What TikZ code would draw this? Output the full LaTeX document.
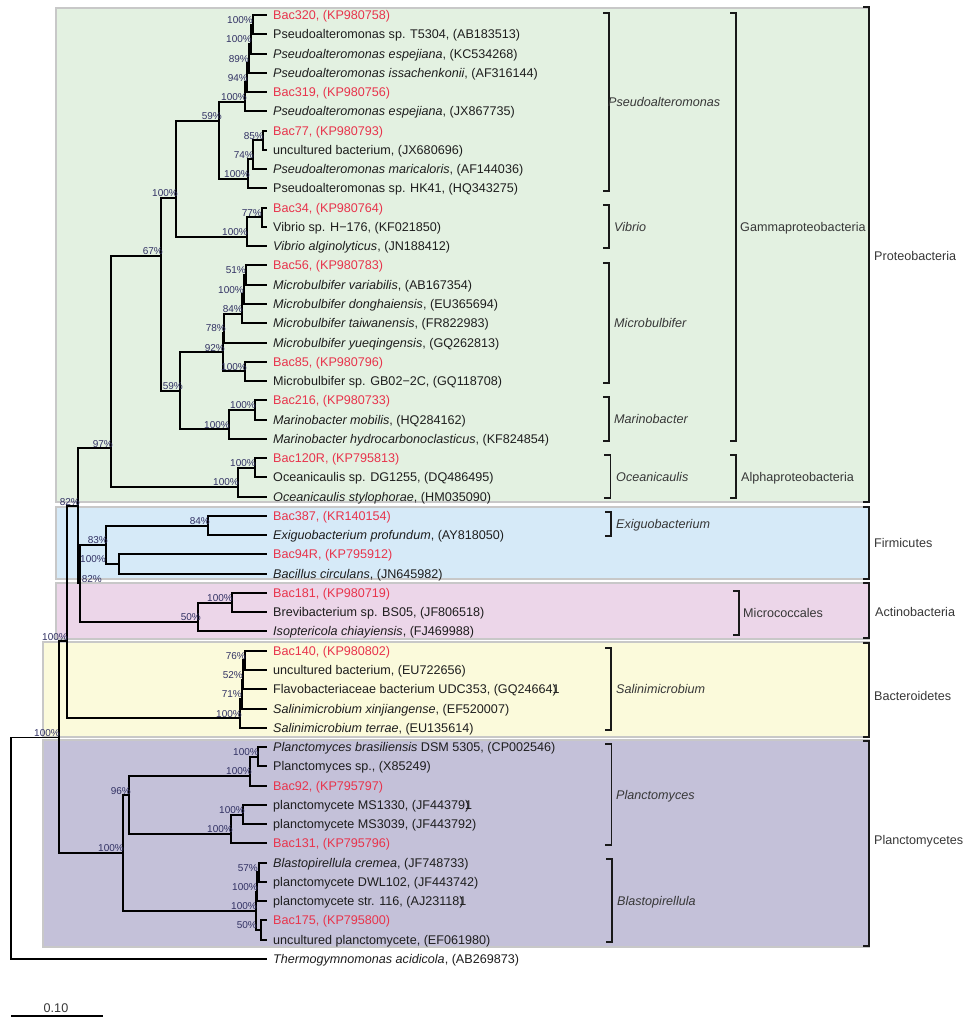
\documentclass[tikz,border=0pt]{standalone}
\usepackage{fontspec}
\setmainfont{Liberation Sans}
\definecolor{leafc}{RGB}{30,30,30}
\definecolor{redc}{RGB}{232,52,76}
\definecolor{bsc}{RGB}{50,50,100}
\definecolor{grpc}{RGB}{55,55,55}
\definecolor{boxborder}{RGB}{200,200,200}
\definecolor{fgreen}{RGB}{227,241,225}
\definecolor{fblue}{RGB}{214,234,248}
\definecolor{fpink}{RGB}{236,214,233}
\definecolor{fyellow}{RGB}{251,250,219}
\definecolor{fpurple}{RGB}{196,193,217}
\newcommand\leaffont{\fontsize{12.6}{14}\selectfont}
\newcommand\bsfont{\fontsize{10}{12}\selectfont}
\newcommand\glitchend{\makebox[0pt][l]{1})}
\begin{document}
\begin{tikzpicture}[x=1pt,y=-1pt,
  leaf/.style={anchor=base west,inner sep=0pt,font=\leaffont,text=leafc},
  redleaf/.style={leaf,text=redc},
  bs/.style={anchor=base east,inner sep=0pt,font=\bsfont,text=bsc},
  grp/.style={anchor=base west,inner sep=0pt,font=\leaffont,text=grpc},
  branch/.style={line width=2pt,line join=miter,draw=black},
  rootbranch/.style={line width=1.2pt,draw=black},
  brk/.style={line width=1.8pt,draw=black!90,line join=miter},
  cladebox/.style={draw=boxborder,line width=1.5pt}]
\useasboundingbox (0,0) rectangle (967,1024);
\fill[white] (0,0) rectangle (967,1024);
% coloured boxes
\path[cladebox,fill=fgreen] (56,8) rectangle (869,502);
\path[cladebox,fill=fblue] (56,507) rectangle (869,579);
\path[cladebox,fill=fpink] (56,583) rectangle (869,639);
\path[cladebox,fill=fyellow] (43,642) rectangle (869,737);
\path[cladebox,fill=fpurple] (43,740) rectangle (869,947);
% coordinates
\foreach \k in {1,...,50} {
  \coordinate (L\k) at (267,{15+(\k-1)*19.265});
  \coordinate (P\k) at (273,{19.5+(\k-1)*19.265});
}
\foreach \k/\x in {1/252.5,2/250.8,3/248.5,4/246.8,5/245,6/219,7/262.5,8/253,9/248,10/176,
  11/261.5,12/247,13/161,14/245.5,15/243.8,16/242,17/223.5,18/222.5,19/245,20/180,
  21/255,22/228.5,23/110.5,24/255,25/237.5,26/78,27/207.5,28/106,29/119,30/79.5,
  31/232,32/198,33/67,34/244.5,35/243,36/241.5,37/240,38/58.5,39/258,40/249.5,
  41/128.5,42/243,43/231,44/122.7,45/258.5,46/257.3,47/255.8,48/261}
  \coordinate (N\k) at (\x,{24.63+(\k-1)*19.265});
\coordinate (R) at (11,949.35);
% branches
\foreach \p/\a/\b in {N1/L1/L2,N2/N1/L3,N3/N2/L4,N4/N3/L5,N5/N4/L6,N6/N5/N9,N7/L7/L8,
  N8/N7/L9,N9/N8/L10,N10/N6/N12,N11/L11/L12,N12/N11/L13,N13/N10/N20,N14/L14/L15,
  N15/N14/L16,N16/N15/L17,N17/N16/L18,N18/N17/N19,N19/L19/L20,N20/N18/N22,
  N21/L21/L22,N22/N21/L23,N23/N13/N25,N24/L24/L25,N25/N24/L26,N26/N23/N30,
  N27/L27/L28,N28/N27/N29,N29/L29/L30,N30/N28/N32,N31/L31/L32,N32/N31/L33,
  N33/N26/N37,N34/L34/L35,N35/N34/L36,N36/N35/L37,N37/N36/L38,N38/N33/N44,
  N39/L39/L40,N40/N39/L41,N41/N40/N43,N42/L42/L43,N43/N42/L44,N44/N41/N47,
  N45/L45/L46,N46/N45/L47,N47/N46/N48,N48/L48/L49}
  {\draw[branch] (\p) |- (\a); \draw[branch] (\p) |- (\b);}
\draw[rootbranch] (R) |- (N38);
\draw[rootbranch] (R) |- (L50);
% bootstrap values
\foreach \k/\rx/\v in {1/253/100,2/252/100,3/249/89,4/248/94,5/247/100,6/222/59,7/264/85,
  8/254/74,9/250/100,10/178/100,11/262/77,12/248/100,13/163/67,14/246/51,15/244/100,
  16/243/84,17/226/78,18/225/92,19/247/100,20/183/59,21/256/100,22/230/100,23/113/97,
  24/256/100,25/239/100,26/80/82,27/210/84,28/108/83,29/106/100,30/102/82,31/233/100,
  32/201/50,33/68/100,34/246/76,35/243/52,36/242/71,37/242/100,38/60/100,39/259/100,
  40/252/100,41/131/96,42/245/100,43/233/100,44/124/100,45/258/57,46/258/100,
  47/257/100,48/257/50}
  \node[bs] (b\k) at (\rx,{23.53+(\k-1)*19.265}) {\v\%};
% leaves
\node[redleaf] (t1) at (P1) {Bac320, (KP980758)};
\node[leaf] (t2) at (P2) {Pseudoalteromonas sp. T5304, (AB183513)};
\node[leaf] (t3) at (P3) {\textit{Pseudoalteromonas espejiana}, (KC534268)};
\node[leaf] (t4) at (P4) {\textit{Pseudoalteromonas issachenkonii}, (AF316144)};
\node[redleaf] (t5) at (P5) {Bac319, (KP980756)};
\node[leaf] (t6) at (P6) {\textit{Pseudoalteromonas espejiana}, (JX867735)};
\node[redleaf] (t7) at (P7) {Bac77, (KP980793)};
\node[leaf] (t8) at (P8) {uncultured bacterium, (JX680696)};
\node[leaf] (t9) at (P9) {\textit{Pseudoalteromonas maricaloris}, (AF144036)};
\node[leaf] (t10) at (P10) {Pseudoalteromonas sp. HK41, (HQ343275)};
\node[redleaf] (t11) at (P11) {Bac34, (KP980764)};
\node[leaf] (t12) at (P12) {Vibrio sp. H−176, (KF021850)};
\node[leaf] (t13) at (P13) {\textit{Vibrio alginolyticus}, (JN188412)};
\node[redleaf] (t14) at (P14) {Bac56, (KP980783)};
\node[leaf] (t15) at (P15) {\textit{Microbulbifer variabilis}, (AB167354)};
\node[leaf] (t16) at (P16) {\textit{Microbulbifer donghaiensis}, (EU365694)};
\node[leaf] (t17) at (P17) {\textit{Microbulbifer taiwanensis}, (FR822983)};
\node[leaf] (t18) at (P18) {\textit{Microbulbifer yueqingensis}, (GQ262813)};
\node[redleaf] (t19) at (P19) {Bac85, (KP980796)};
\node[leaf] (t20) at (P20) {Microbulbifer sp. GB02−2C, (GQ118708)};
\node[redleaf] (t21) at (P21) {Bac216, (KP980733)};
\node[leaf] (t22) at (P22) {\textit{Marinobacter mobilis}, (HQ284162)};
\node[leaf] (t23) at (P23) {\textit{Marinobacter hydrocarbonoclasticus}, (KF824854)};
\node[redleaf] (t24) at (P24) {Bac120R, (KP795813)};
\node[leaf] (t25) at (P25) {Oceanicaulis sp. DG1255, (DQ486495)};
\node[leaf] (t26) at (P26) {\textit{Oceanicaulis stylophorae}, (HM035090)};
\node[redleaf] (t27) at (P27) {Bac387, (KR140154)};
\node[leaf] (t28) at (P28) {\textit{Exiguobacterium profundum}, (AY818050)};
\node[redleaf] (t29) at (P29) {Bac94R, (KP795912)};
\node[leaf] (t30) at (P30) {\textit{Bacillus circulans}, (JN645982)};
\node[redleaf] (t31) at (P31) {Bac181, (KP980719)};
\node[leaf] (t32) at (P32) {Brevibacterium sp. BS05, (JF806518)};
\node[leaf] (t33) at (P33) {\textit{Isoptericola chiayiensis}, (FJ469988)};
\node[redleaf] (t34) at (P34) {Bac140, (KP980802)};
\node[leaf] (t35) at (P35) {uncultured bacterium, (EU722656)};
\node[leaf] (t36) at (P36) {Flavobacteriaceae bacterium UDC353, (GQ24664\glitchend};
\node[leaf] (t37) at (P37) {\textit{Salinimicrobium xinjiangense}, (EF520007)};
\node[leaf] (t38) at (P38) {\textit{Salinimicrobium terrae}, (EU135614)};
\node[leaf] (t39) at (P39) {\textit{Planctomyces brasiliensis} DSM 5305, (CP002546)};
\node[leaf] (t40) at (P40) {Planctomyces sp., (X85249)};
\node[redleaf] (t41) at (P41) {Bac92, (KP795797)};
\node[leaf] (t42) at (P42) {planctomycete MS1330, (JF44379\glitchend};
\node[leaf] (t43) at (P43) {planctomycete MS3039, (JF443792)};
\node[redleaf] (t44) at (P44) {Bac131, (KP795796)};
\node[leaf] (t45) at (P45) {\textit{Blastopirellula cremea}, (JF748733)};
\node[leaf] (t46) at (P46) {planctomycete DWL102, (JF443742)};
\node[leaf] (t47) at (P47) {planctomycete str. 116, (AJ23118\glitchend};
\node[redleaf] (t48) at (P48) {Bac175, (KP795800)};
\node[leaf] (t49) at (P49) {uncultured planctomycete, (EF061980)};
\node[leaf] (t50) at (P50) {\textit{Thermogymnomonas acidicola}, (AB269873)};
% genus brackets
\draw[brk] (603,13) -- (609,13) -- (609,191) -- (603,191);
\draw[brk] (603,205) -- (609,205) -- (609,248) -- (603,248);
\draw[brk] (603,263) -- (609,263) -- (609,383) -- (603,383);
\draw[brk] (603,397) -- (609,397) -- (609,441) -- (603,441);
\draw[brk] (604,455) -- (610.5,455) -- (610.5,498) -- (604,498);
\draw[brk] (605,512) -- (611,512) -- (611,536) -- (605,536);
\draw[brk] (605,648) -- (611,648) -- (611,730) -- (605,730);
\draw[brk] (605,744) -- (611.5,744) -- (611.5,845) -- (605,845);
\draw[brk] (606,859) -- (612,859) -- (612,942) -- (606,942);
\node[grp] (g1) at (608,106.5) {\textit{Pseudoalteromonas}};
\node[grp] (g2) at (614,231.5) {\textit{Vibrio}};
\node[grp] (g3) at (614,327.5) {\textit{Microbulbifer}};
\node[grp] (g4) at (614,423.5) {\textit{Marinobacter}};
\node[grp] (g5) at (616,481.5) {\textit{Oceanicaulis}};
\node[grp] (g6) at (616,528.5) {\textit{Exiguobacterium}};
\node[grp] (g7) at (616,693.5) {\textit{Salinimicrobium}};
\node[grp] (g8) at (616,799.5) {\textit{Planctomyces}};
\node[grp] (g9) at (617,905.5) {\textit{Blastopirellula}};
% class brackets
\draw[brk] (730,13) -- (736,13) -- (736,441) -- (730,441);
\draw[brk] (730,455) -- (736,455) -- (736,498) -- (730,498);
\draw[brk] (733,591) -- (739.3,591) -- (739.3,635) -- (733,635);
\node[grp] (c1) at (740,231.5) {Gammaproteobacteria};
\node[grp] (c2) at (741,481.5) {Alphaproteobacteria};
\node[grp] (c3) at (743,617.5) {Micrococcales};
% phylum brackets
\draw[brk] (863,7) -- (869,7) -- (869,502) -- (863,502);
\draw[brk] (863,507) -- (869,507) -- (869,579) -- (863,579);
\draw[brk] (863,583) -- (869,583) -- (869,638) -- (863,638);
\draw[brk] (863,643) -- (869,643) -- (869,737) -- (863,737);
\draw[brk] (863,741) -- (869,741) -- (869,946) -- (863,946);
\node[grp] (p1) at (874,260.5) {Proteobacteria};
\node[grp] (p2) at (874,547.5) {Firmicutes};
\node[grp] (p3) at (875,616.5) {Actinobacteria};
\node[grp] (p4) at (874,700.5) {Bacteroidetes};
\node[grp] (p5) at (874,844.5) {Planctomycetes};
% scale bar
\coordinate (sb1) at (11,1016);
\coordinate (sb2) at (103,1016);
\draw[line width=2pt] (sb1) -- (sb2);
\node[grp,anchor=base] (sbl) at (56,1012) {0.10};
\end{tikzpicture}
\end{document}
